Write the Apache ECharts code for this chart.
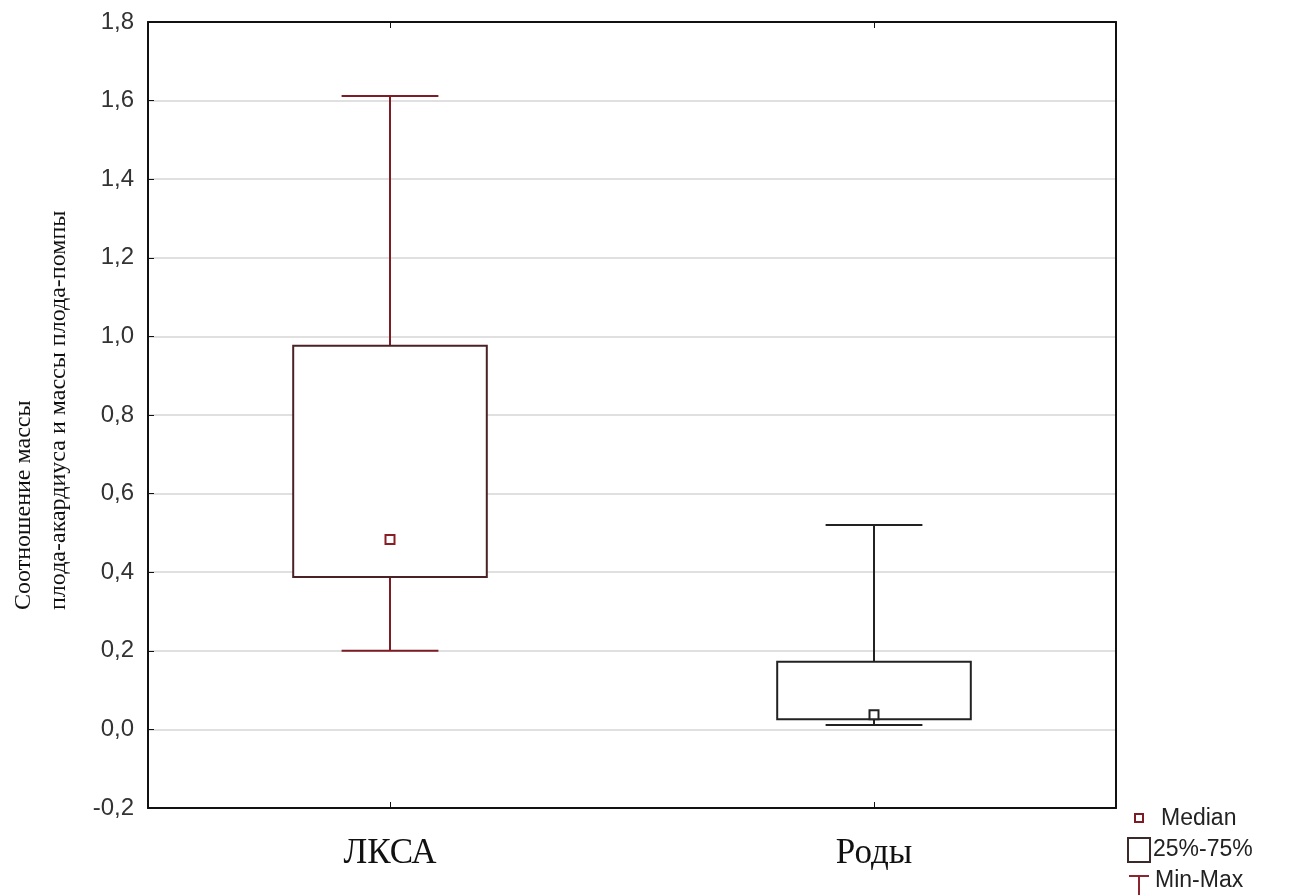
<!DOCTYPE html>
<html>
<head>
<meta charset="utf-8">
<style>
  html, body { margin: 0; padding: 0; background: #ffffff; }
  #chart { width: 1296px; height: 895px; }
</style>
<script src="https://cdn.jsdelivr.net/npm/echarts@6/dist/echarts.min.js"></script>
</head>
<body>
<div id="chart"></div>
<script>
// Groups on the x axis
const categories = ['ЛКСА', 'Роды'];
// Box-and-whisker statistics per group
const minValues = [0.20, 0.011];
const q1Values = [0.388, 0.026];
const medianValues = [0.483, 0.037];
const q3Values = [0.976, 0.172];
const maxValues = [1.612, 0.520];
// Y axis range and step
const yMin = -0.2;
const yMax = 1.8;
const yStep = 0.2;

const yTitleLines = ['Соотношение массы', 'плода-акардиуса и массы плода-помпы'];
const legendLabels = ['Median', '25%-75%', 'Min-Max'];

// Per-group stroke colours
const groupStyles = [
  { box: '#4a2226', whisker: '#7d1c24', median: '#8a1c24' },
  { box: '#222222', whisker: '#222222', median: '#222222' }
];

const seriesData = categories.map((c, i) => [i, minValues[i], q1Values[i], medianValues[i], q3Values[i], maxValues[i]]);

function fmt(v) {
  if (Math.abs(v) < 1e-9) v = 0;
  return v.toFixed(1).replace('.', ',');
}

function renderBox(params, api) {
  const idx = api.value(0);
  const band = api.size([1, 0])[0];
  const boxHalf = band * 0.2;
  const capHalf = band * 0.1;
  const pMin = api.coord([idx, api.value(1)]);
  const pQ1 = api.coord([idx, api.value(2)]);
  const pMed = api.coord([idx, api.value(3)]);
  const pQ3 = api.coord([idx, api.value(4)]);
  const pMax = api.coord([idx, api.value(5)]);
  const cx = pQ1[0];
  const st = groupStyles[idx];
  const lw = 2;
  const ms = 9;
  return {
    type: 'group',
    children: [
      { type: 'line', shape: { x1: cx, y1: pQ3[1], x2: cx, y2: pMax[1] }, style: { stroke: st.whisker, lineWidth: lw } },
      { type: 'line', shape: { x1: cx - capHalf, y1: pMax[1], x2: cx + capHalf, y2: pMax[1] }, style: { stroke: st.whisker, lineWidth: lw } },
      { type: 'line', shape: { x1: cx, y1: pQ1[1], x2: cx, y2: pMin[1] }, style: { stroke: st.whisker, lineWidth: lw } },
      { type: 'line', shape: { x1: cx - capHalf, y1: pMin[1], x2: cx + capHalf, y2: pMin[1] }, style: { stroke: st.whisker, lineWidth: lw } },
      { type: 'rect', shape: { x: cx - boxHalf, y: pQ3[1], width: boxHalf * 2, height: pQ1[1] - pQ3[1] }, style: { fill: '#ffffff', stroke: st.box, lineWidth: lw } },
      { type: 'rect', shape: { x: cx - ms / 2, y: pMed[1] - ms / 2, width: ms, height: ms }, style: { fill: '#ffffff', stroke: st.median, lineWidth: 2 } }
    ]
  };
}

const chart = echarts.init(document.getElementById('chart'), null, { renderer: 'canvas' });

const axisLineStyle = { color: '#111111', width: 2 };
const titleFont = '24px "Liberation Serif", "Times New Roman", serif';
const legendFont = '23px "Liberation Sans", Arial, sans-serif';

const option = {
  backgroundColor: '#ffffff',
  animation: false,
  grid: { left: 148, top: 22, width: 968, height: 786, containLabel: false },
  xAxis: [
    {
      type: 'category',
      data: categories,
      position: 'bottom',
      boundaryGap: true,
      axisLine: { show: true, onZero: false, lineStyle: axisLineStyle },
      axisTick: { show: true, inside: true, length: 6, alignWithLabel: true, lineStyle: { color: '#111111', width: 1 } },
      axisLabel: { show: true, margin: 28, color: '#111111', fontFamily: '"Liberation Serif", "Times New Roman", serif', fontSize: 35 },
      splitLine: { show: false }
    },
    {
      type: 'category',
      data: categories,
      position: 'top',
      boundaryGap: true,
      axisLine: { show: true, onZero: false, lineStyle: axisLineStyle },
      axisTick: { show: true, inside: true, length: 6, alignWithLabel: true, lineStyle: { color: '#111111', width: 1 } },
      axisLabel: { show: false },
      splitLine: { show: false }
    }
  ],
  yAxis: [
    {
      type: 'value',
      min: yMin,
      max: yMax,
      interval: yStep,
      position: 'left',
      axisLine: { show: true, onZero: false, lineStyle: axisLineStyle },
      axisTick: { show: true, inside: true, length: 6, lineStyle: { color: '#111111', width: 1 } },
      axisLabel: { show: true, margin: 14, color: '#333333', fontFamily: '"Liberation Sans", Arial, sans-serif', fontSize: 24, formatter: fmt },
      splitLine: { show: true, lineStyle: { color: '#d6d6d6', width: 1.5 } }
    },
    {
      type: 'value',
      min: yMin,
      max: yMax,
      interval: yStep,
      position: 'right',
      axisLine: { show: true, onZero: false, lineStyle: axisLineStyle },
      axisTick: { show: false },
      axisLabel: { show: false },
      splitLine: { show: false }
    }
  ],
  series: [
    {
      type: 'custom',
      xAxisIndex: 0,
      yAxisIndex: 0,
      renderItem: renderBox,
      encode: { x: 0, y: [1, 2, 3, 4, 5] },
      data: seriesData,
      z: 10
    }
  ],
  graphic: [
    // Y axis title, two left-aligned rotated lines
    {
      type: 'text', x: 24, y: 610, rotation: Math.PI / 2,
      style: { text: yTitleLines[0], fill: '#111111', font: titleFont, textAlign: 'left', textVerticalAlign: 'middle' }
    },
    {
      type: 'text', x: 59, y: 610, rotation: Math.PI / 2,
      style: { text: yTitleLines[1], fill: '#111111', font: titleFont, textAlign: 'left', textVerticalAlign: 'middle' }
    },
    // Legend: median marker
    { type: 'rect', shape: { x: 1135, y: 814, width: 8, height: 8 }, style: { fill: '#ffffff', stroke: '#7d1c24', lineWidth: 2 } },
    { type: 'text', x: 1161, y: 819, style: { text: legendLabels[0], fill: '#222222', font: legendFont, textVerticalAlign: 'middle' } },
    // Legend: box
    { type: 'rect', shape: { x: 1128, y: 838, width: 22, height: 24 }, style: { fill: '#ffffff', stroke: '#3a2a2a', lineWidth: 2 } },
    { type: 'text', x: 1153, y: 850, style: { text: legendLabels[1], fill: '#222222', font: legendFont, textVerticalAlign: 'middle' } },
    // Legend: whisker
    { type: 'line', shape: { x1: 1129, y1: 876, x2: 1149, y2: 876 }, style: { stroke: '#8b2530', lineWidth: 2 } },
    { type: 'line', shape: { x1: 1139, y1: 876, x2: 1139, y2: 895 }, style: { stroke: '#8b2530', lineWidth: 2 } },
    { type: 'text', x: 1155, y: 881, style: { text: legendLabels[2], fill: '#222222', font: legendFont, textVerticalAlign: 'middle' } }
  ]
};

chart.setOption(option);
</script>
</body>
</html>
